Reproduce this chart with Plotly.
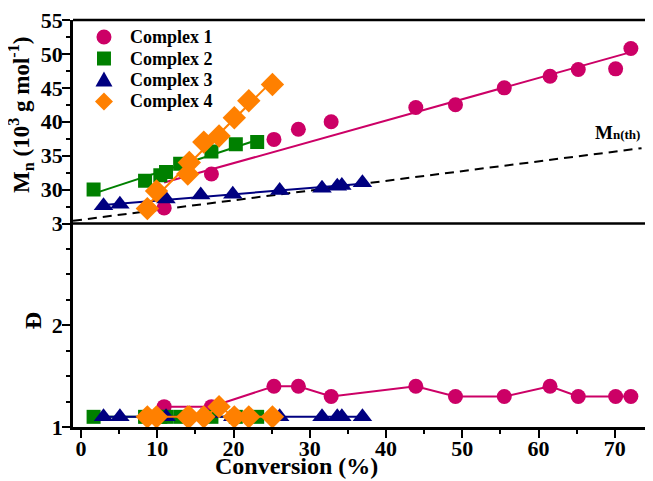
import numpy as np
import plotly.graph_objects as go

# ---------------- data ----------------
c1_conv = [10.9, 17.1, 25.3, 28.5, 32.8, 43.9, 49.1, 55.5, 61.5, 65.2, 70.1, 72.1]
c1_mn = [27.3, 32.3, 37.4, 38.9, 40.0, 42.1, 42.5, 45.0, 46.7, 47.7, 47.8, 50.8]
c1_d = [1.2, 1.2, 1.4, 1.4, 1.3, 1.4, 1.3, 1.3, 1.4, 1.3, 1.3, 1.3]

c2_conv = [1.65, 8.4, 10.4, 11.15, 13.0, 17.1, 20.3, 23.1]
c2_mn = [30.0, 31.3, 32.1, 32.6, 33.8, 35.6, 36.7, 37.0]
c2_d = [1.1, 1.1, 1.1, 1.1, 1.1, 1.1, 1.1, 1.1]

c3_conv = [2.95, 5.1, 11.15, 15.7, 19.9, 26.05, 31.6, 33.6, 34.2, 36.9]
c3_mn = [27.6, 27.85, 28.6, 29.2, 29.3, 29.85, 30.2, 30.5, 30.6, 31.0]
c3_d = [1.1, 1.1, 1.1, 1.1, 1.1, 1.1, 1.1, 1.1, 1.1, 1.1]

c4_conv = [8.7, 9.9, 14.0, 14.2, 16.1, 18.1, 20.1, 22.0, 25.1]
c4_mn = [27.2, 29.8, 32.3, 34.0, 37.0, 37.9, 40.6, 43.1, 45.5]
c4_d = [1.1, 1.1, 1.1, 1.1, 1.1, 1.2, 1.1, 1.1, 1.1]

th_conv = [-1.05, 73.5]
th_mn = [25.4, 36.1]

names = ["Complex 1", "Complex 2", "Complex 3", "Complex 4"]
x_ticks = [0, 10, 20, 30, 40, 50, 60, 70]
mn_ticks = [30, 35, 40, 45, 50, 55]
d_ticks = [1, 2, 3]

# ---------------- styling ----------------
FONT = "Liberation Serif"
colors = ["#CC0066", "#008000", "#000080", "#FF8000"]
symbols = ["circle", "square", "triangle-up", "diamond"]
sizes = [15, 14, 17, 18]

series = [
    (c1_conv, c1_mn, c1_d),
    (c2_conv, c2_mn, c2_d),
    (c3_conv, c3_mn, c3_d),
    (c4_conv, c4_mn, c4_d),
]

fig = go.Figure()

# theoretical Mn line
fig.add_trace(go.Scatter(x=th_conv, y=th_mn, mode="lines", yaxis="y2",
                         line=dict(color="black", width=2, dash="9px,6px"),
                         showlegend=False, hoverinfo="skip"))

for (cx, mn, d), col, sym, sz, nm in zip(series, colors, symbols, sizes, names):
    cx_a = np.array(cx)
    mn_a = np.array(mn)
    k, b = np.polyfit(cx_a, mn_a, 1)
    xf = np.array([cx_a.min(), cx_a.max()])
    # linear fit line (upper panel)
    fig.add_trace(go.Scatter(x=xf, y=k * xf + b, mode="lines", yaxis="y2",
                             line=dict(color=col, width=2),
                             showlegend=False, hoverinfo="skip"))
    # Mn points
    fig.add_trace(go.Scatter(x=cx, y=mn, mode="markers", yaxis="y2", name=nm,
                             marker=dict(color=col, symbol=sym, size=sz,
                                         line=dict(width=0)),
                             showlegend=False))
    # dispersity (lower panel)
    fig.add_trace(go.Scatter(x=cx, y=d, mode="lines+markers", yaxis="y", name=nm,
                             line=dict(color=col, width=2),
                             marker=dict(color=col, symbol=sym, size=sz,
                                         line=dict(width=0)),
                             showlegend=False))

axis_common = dict(showline=True, linecolor="black", linewidth=2.5,
                   ticks="outside", ticklen=8, tickwidth=2, tickcolor="black",
                   showgrid=False, zeroline=False, ticklabeloverflow="allow",
                   tickfont=dict(family=FONT, size=22, color="black", weight="bold"))

# ---------------- hand-made legend (symbol shapes + text) ----------------
leg_sym_x = 0.0534
leg_txt_x = 0.0948
leg_rows = [0.9582, 0.9054, 0.8526, 0.7998]
sym_paths = [
    None,
    None,
    "M -8.5,-6.5 L 8.5,-6.5 L 0,8.5 Z",
    "M 0,9 L 9,0 L 0,-9 L -9,0 Z",
]
shapes = [
    dict(type="line", xref="paper", yref="paper", x0=0, x1=1, y0=0.5, y1=0.5,
         line=dict(color="black", width=2.5)),
    dict(type="line", xref="paper", yref="paper", x0=0, x1=1, y0=1, y1=1,
         line=dict(color="black", width=2.5)),
]
annotations = []
for i, (nm, col) in enumerate(zip(names, colors)):
    base = dict(xref="paper", yref="paper", xsizemode="pixel", ysizemode="pixel",
                xanchor=leg_sym_x, yanchor=leg_rows[i], fillcolor=col,
                line=dict(width=0), layer="above")
    if i == 0:
        shapes.append(dict(type="circle", x0=-7.5, x1=7.5, y0=-7.5, y1=7.5, **base))
    elif i == 1:
        shapes.append(dict(type="rect", x0=-7, x1=7, y0=-7, y1=7, **base))
    else:
        shapes.append(dict(type="path", path=sym_paths[i], **base))
    annotations.append(dict(text=nm, xref="paper", yref="paper", x=leg_txt_x,
                            y=leg_rows[i], xanchor="left", yanchor="middle",
                            showarrow=False,
                            font=dict(family=FONT, size=18, color="black",
                                      weight="bold")))

annotations += [
    dict(text="Conversion (%)", xref="paper", yref="paper", x=0.3845, y=-0.096,
         xanchor="center", yanchor="middle", showarrow=False,
         font=dict(family=FONT, size=24, color="black", weight="bold")),
    dict(text="M<sub>n</sub> (10<sup>3</sup> g mol<sup>-1</sup>)", xref="paper", yref="paper",
         x=-0.0895, y=0.767, xanchor="center", yanchor="middle", textangle=-90,
         showarrow=False,
         font=dict(family=FONT, size=23, color="black", weight="bold")),
    dict(text="Đ", xref="paper", yref="paper", x=-0.069, y=0.262,
         xanchor="center", yanchor="middle", textangle=-90, showarrow=False,
         font=dict(family=FONT, size=24, color="black", weight="bold")),
    dict(text="M<span style='font-size:13px'>n(th)</span>", xref="x", yref="y2",
         x=73.5, y=38.4, xanchor="right", yanchor="middle", showarrow=False,
         font=dict(family=FONT, size=19, color="black", weight="bold")),
]

# page body has an 8px margin: figure is sized/offset so the plot area lands
# where the reference has it inside the 653x481 window
fig.update_layout(
    width=645, height=473,
    margin=dict(l=65, r=0, t=12, b=54),
    plot_bgcolor="white", paper_bgcolor="white",
    showlegend=False,
    xaxis=dict(range=[-1.05, 75.0], domain=[0, 1], anchor="y",
               tickvals=x_ticks, ticklabelstandoff=-8,
               minor=dict(dtick=5, tick0=0, ticks="outside", ticklen=4,
                          tickwidth=2, tickcolor="black", showgrid=False),
               **axis_common),
    yaxis=dict(range=[1, 3], domain=[0, 0.5], anchor="x",
               tickvals=d_ticks, ticklabelstandoff=-5,
               minor=dict(dtick=0.25, tick0=1, ticks="outside", ticklen=4,
                          tickwidth=2, tickcolor="black", showgrid=False),
               **axis_common),
    yaxis2=dict(range=[25, 55], domain=[0.5, 1], anchor="x",
                tickvals=mn_ticks, ticklabelstandoff=-5,
                minor=dict(dtick=2.5, tick0=25, ticks="outside", ticklen=4,
                           tickwidth=2, tickcolor="black", showgrid=False),
                **axis_common),
    shapes=shapes,
    annotations=annotations,
)

fig.write_html("out.html")
